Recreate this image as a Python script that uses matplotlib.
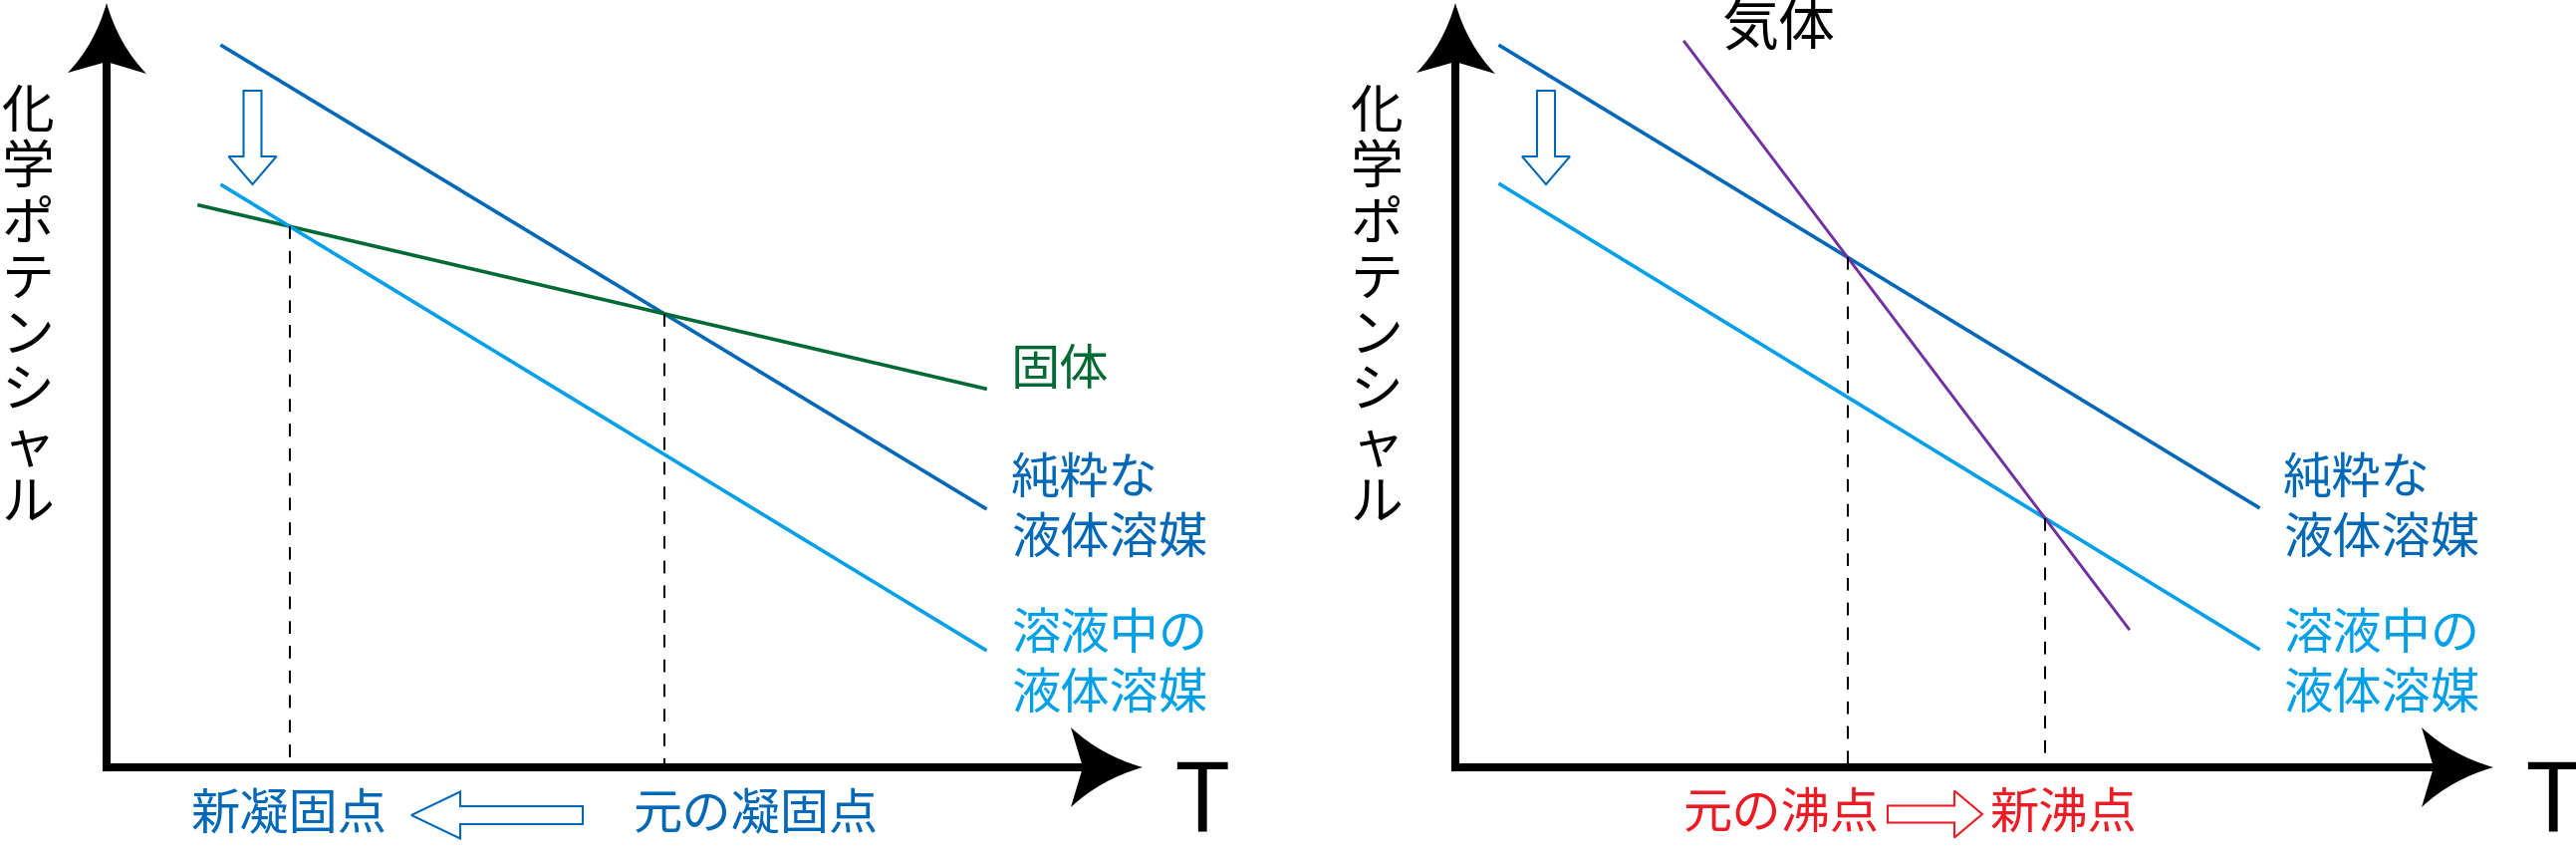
import numpy as np
import matplotlib
matplotlib.use('Agg')
import matplotlib.pyplot as plt
from matplotlib.path import Path
from matplotlib.patches import PathPatch, FancyArrow

plt.rcParams['font.family'] = ['Noto Sans CJK JP', 'DejaVu Sans']

## line data (T, mu) for each panel
# left panel : freezing point depression
T_pure_l = [116, 882]
mu_pure_l = [724, 260]
T_solid = [93, 882]
mu_solid = [564, 380]
T_soln_l = [116, 882]
mu_soln_l = [584, 118]
# right panel : boiling point elevation
T_pure_r = [45, 806]
mu_pure_r = [724, 261]
T_soln_r = [45, 806]
mu_soln_r = [585, 119]
T_gas = [230, 676]
mu_gas = [728, 139]

ylabel_chars = list('化学ポテンシャル')
label_pure = '純粋な\n液体溶媒'
label_soln = '溶液中の\n液体溶媒'
label_solid = '固体'
label_gas = '気体'

c_pure = '#0068B7'
c_soln = '#00A0E9'
c_solid = '#006934'
c_gas = '#7030A0'
c_red = '#ED1C24'


def cross(xa, ya, xb, yb):
    # intersection of two straight lines given by their end points
    ka = (ya[1] - ya[0]) / (xa[1] - xa[0])
    kb = (yb[1] - yb[0]) / (xb[1] - xb[0])
    x = (yb[0] - kb * xb[0] - ya[0] + ka * xa[0]) / (ka - kb)
    return x, ya[0] + ka * (x - xa[0])


def draw_axes(ax, xtip, ytip):
    ax.plot([0, 0], [0, ytip - 60], color='k', lw=5.8, solid_capstyle='projecting')
    ax.plot([0, xtip - 60], [0, 0], color='k', lw=5.8, solid_capstyle='projecting')
    up = [(0, ytip), (-12, ytip - 42), (-39, ytip - 70), (0, ytip - 59),
          (40, ytip - 71), (12, ytip - 42), (0, ytip), (0, ytip)]
    right = [(xtip, 0), (xtip - 42, 12), (xtip - 72, 40), (xtip - 60, 0),
             (xtip - 72, -40), (xtip - 42, -12), (xtip, 0), (xtip, 0)]
    codes = [Path.MOVETO, Path.CURVE3, Path.CURVE3, Path.LINETO,
             Path.LINETO, Path.CURVE3, Path.CURVE3, Path.CLOSEPOLY]
    for pts in (up, right):
        ax.add_patch(PathPatch(Path(pts, codes), fc='k', ec='none', clip_on=False))
    ax.text(xtip + 59, -63, 'T', fontsize=68, ha='center', va='baseline')
    for i, ch in enumerate(ylabel_chars):
        ax.text(-79, 657 - 56 * i, ch, fontsize=38, ha='center', va='center')


def dashed_drop(ax, x, y):
    ax.plot([x, x], [y, 0], color='k', lw=1.45, dashes=(6.3, 6))


fig = plt.figure(figsize=(25.86, 8.64), dpi=100)
axl = fig.add_axes([0, 0, 0.5, 1])
axr = fig.add_axes([0.5, 0, 0.5, 1])
axl.set_xlim(-107, 1186)
axr.set_xlim(-168, 1125)
for ax in (axl, axr):
    ax.set_ylim(-94, 770)
    ax.axis('off')

##Left panel
draw_axes(axl, 1040, 767)
axl.plot(T_pure_l, mu_pure_l, color=c_pure, lw=2.6)
axl.plot(T_solid, mu_solid, color=c_solid, lw=2.6)
axl.plot(T_soln_l, mu_soln_l, color=c_soln, lw=2.6)
dashed_drop(axl, *cross(T_solid, mu_solid, T_soln_l, mu_soln_l))
dashed_drop(axl, *cross(T_solid, mu_solid, T_pure_l, mu_pure_l))

axl.text(908, 398, label_solid, color=c_solid, fontsize=35.5, ha='left', va='center')
axl.text(908, 259, label_pure, color=c_pure, fontsize=35.5, ha='left', va='center',
         linespacing=1.2)
axl.text(908, 103, label_soln, color=c_soln, fontsize=35.5, ha='left', va='center',
         linespacing=1.2)
axl.add_patch(FancyArrow(146.5, 679, 0, -94, width=18, head_width=48, head_length=28,
                         length_includes_head=True, fill=False, ec=c_pure, lw=1.5))
axl.text(183.5, -48, '新凝固点', color=c_pure, fontsize=35.5, ha='center', va='center')
axl.text(651.5, -48, '元の凝固点', color=c_pure, fontsize=35.5, ha='center', va='center')
axl.add_patch(FancyArrow(478, -48, -172, 0, width=18, head_width=47, head_length=49,
                         length_includes_head=True, fill=False, ec=c_pure, lw=1.5))

##Right panel
draw_axes(axr, 1042, 767)
axr.plot(T_pure_r, mu_pure_r, color=c_pure, lw=2.6)
axr.plot(T_soln_r, mu_soln_r, color=c_soln, lw=2.6)
axr.plot(T_gas, mu_gas, color=c_gas, lw=2.1)
dashed_drop(axr, *cross(T_gas, mu_gas, T_pure_r, mu_pure_r))
dashed_drop(axr, *cross(T_gas, mu_gas, T_soln_r, mu_soln_r))

axr.text(325, 741, label_gas, color='k', fontsize=41, ha='center', va='center')
axr.text(831, 259, label_pure, color=c_pure, fontsize=35.5, ha='left', va='center',
         linespacing=1.2)
axr.text(831, 103, label_soln, color=c_soln, fontsize=35.5, ha='left', va='center',
         linespacing=1.2)
axr.add_patch(FancyArrow(91, 679, 0, -94, width=18, head_width=48, head_length=28,
                         length_includes_head=True, fill=False, ec=c_pure, lw=1.5))
axr.text(327.5, -47, '元の沸点', color=c_red, fontsize=35.5, ha='center', va='center')
axr.text(610.5, -47, '新沸点', color=c_red, fontsize=35.5, ha='center', va='center')
axr.add_patch(FancyArrow(434, -47, 95, 0, width=17, head_width=47, head_length=28,
                         length_includes_head=True, fill=False, ec=c_red, lw=1.5))

fig.savefig('out.png', dpi=100, facecolor='white')
